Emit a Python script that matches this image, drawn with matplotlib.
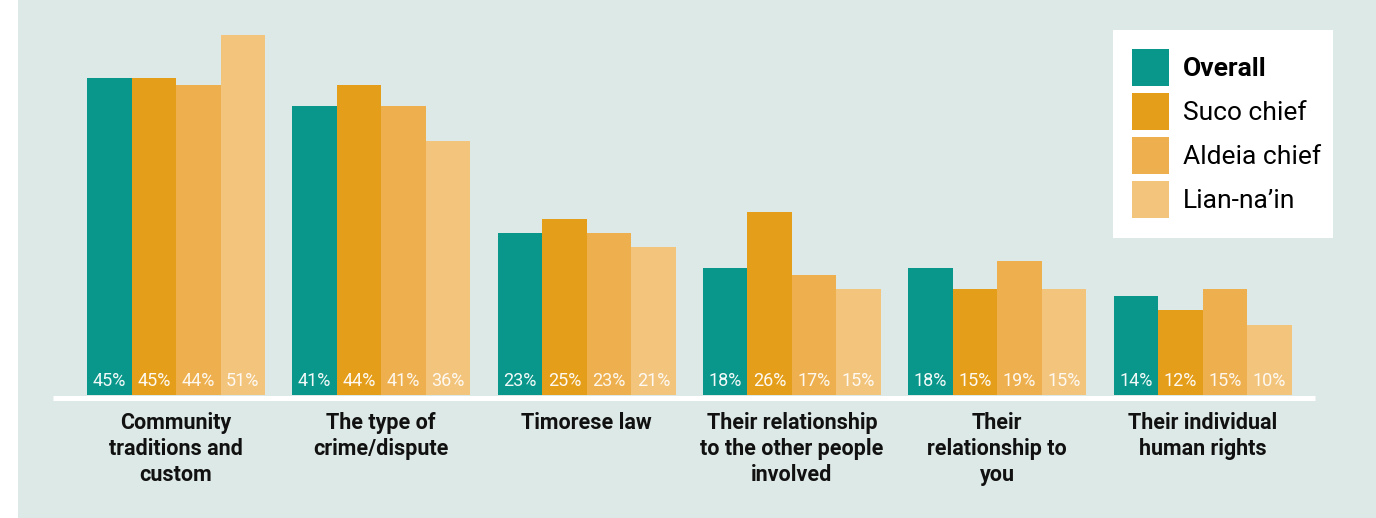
import matplotlib.pyplot as plt
from matplotlib.patches import Rectangle

categories = ["Community\ntraditions and\ncustom",
              "The type of\ncrime/dispute",
              "Timorese law",
              "Their relationship\nto the other people\ninvolved",
              "Their\nrelationship to\nyou",
              "Their individual\nhuman rights"]
series_names = ["Overall", "Suco chief", "Aldeia chief", "Lian-na\u2019in"]
overall = [45, 41, 23, 18, 18, 14]
suco = [45, 44, 25, 26, 15, 12]
aldeia = [44, 41, 23, 17, 19, 15]
lian = [51, 36, 21, 15, 15, 10]

colors = ["#08978a", "#e59e19", "#eeb04e", "#f2c47c"]
bg = "#dde9e6"
W, H = 1376, 518

plt.rcParams['font.family'] = ["Liberation Sans Narrow", "Roboto", "DejaVu Sans"]

fig = plt.figure(figsize=(W / 100, H / 100), dpi=100)
fig.patch.set_facecolor("white")
fig.patches.append(Rectangle((18 / W, 0), 1 - 18 / W, 1, transform=fig.transFigure,
                             facecolor=bg, edgecolor="none", zorder=-1))

# axes spans whole width, y=0 sits at pixel row 395
base = 395
ax = fig.add_axes([0, (H - base) / H, 1, base / H])
ax.set_facecolor("none")
step = 205.3
x0 = 176
ax.set_xlim(-x0 / step, (W - x0) / step)
ax.set_ylim(0, base / 7.05)
ax.axis("off")

bw = 44.5 / step
all_series = [overall, suco, aldeia, lian]
for j, vals in enumerate(all_series):
    xs = [i + (j - 1.5) * bw for i in range(len(vals))]
    ax.bar(xs, vals, width=bw, color=colors[j], linewidth=0, zorder=2)
    for x, v in zip(xs, vals):
        ax.text(x, 1.95, f"{v}%", ha="center", va="center", color="white",
                fontsize=13, family=["Roboto", "DejaVu Sans"],
                alpha=0.95 if j < 2 else 0.9, zorder=3)

# white baseline under the bars
ax.plot([(53 - x0) / step, (1315 - x0) / step], [-0.36, -0.36], color="white",
        lw=3.6, solid_capstyle="butt", clip_on=False, zorder=3)

for i, cat in enumerate(categories):
    ax.text(i, -2.45, cat, ha="center", va="top", fontsize=15.5, fontweight="bold",
            linespacing=1.24, color="#111111", clip_on=False)

# legend box
fig.patches.append(Rectangle((1113 / W, 1 - 238 / H), 220 / W, 208 / H,
                             transform=fig.transFigure, facecolor="white",
                             edgecolor="none", zorder=1))
for j, name in enumerate(series_names):
    top = 49 + j * 44
    fig.patches.append(Rectangle((1132 / W, 1 - (top + 37) / H), 37 / W, 37 / H,
                                 transform=fig.transFigure, facecolor=colors[j],
                                 edgecolor="none", zorder=2))
    fig.text(1183 / W, 1 - (top + 19.5) / H, name, ha="left", va="center",
             fontsize=19, fontweight="bold" if j == 0 else "normal",
             color="black", zorder=3)

fig.savefig("out.png", dpi=100, facecolor=fig.get_facecolor())
